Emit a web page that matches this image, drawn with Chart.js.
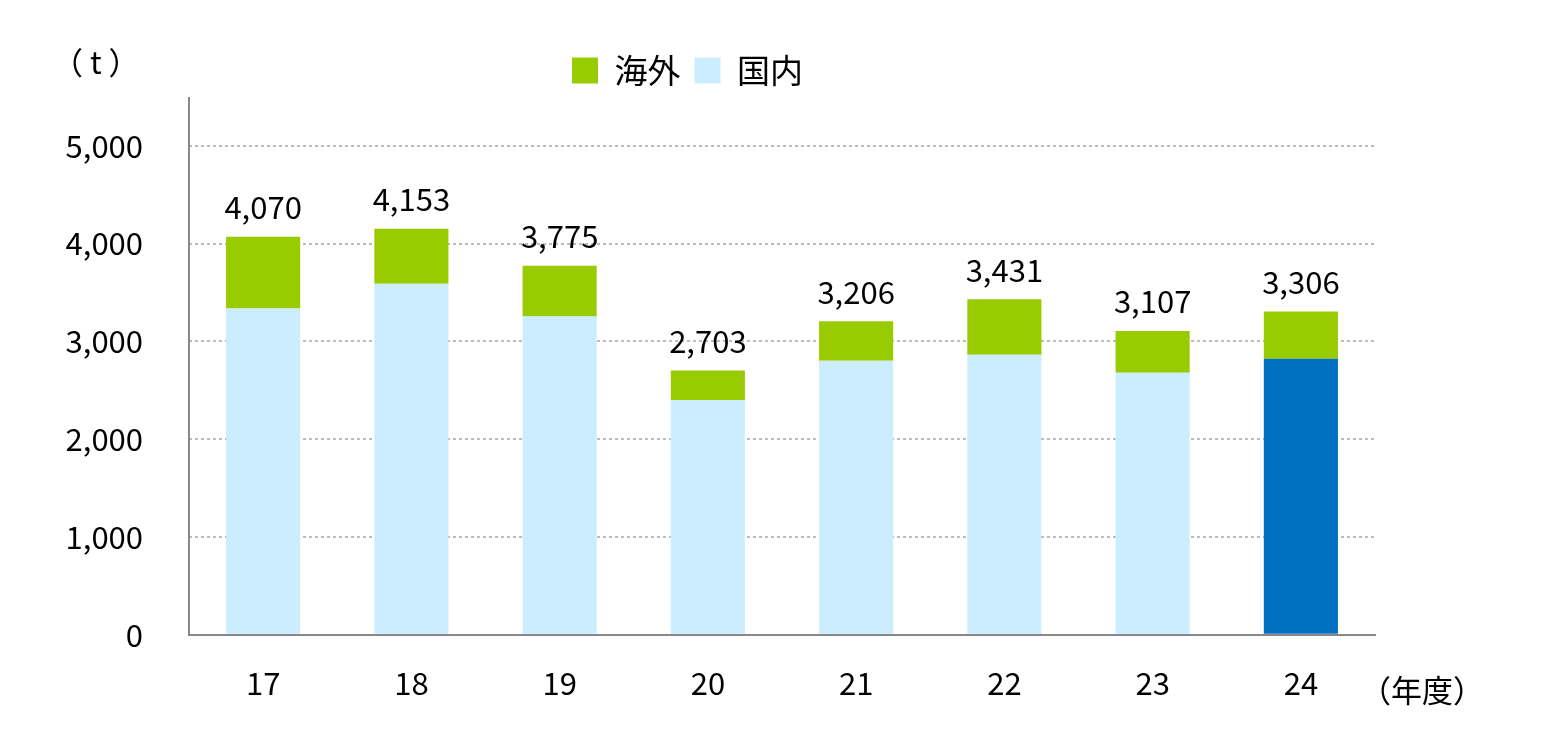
<!DOCTYPE html>
<html><head><meta charset="utf-8">
<script src="https://cdn.jsdelivr.net/npm/chart.js@4/dist/chart.umd.min.js"></script>
<style>html,body{margin:0;padding:0;background:#fff}#w{position:relative;width:1544px;height:746px}</style>
</head><body><div id="w"><canvas id="c" width="1544" height="746"></canvas></div>
<script>
const categories = ["17","18","19","20","21","22","23","24"];
const domestic = [3337,3589,3256,2399,2802,2863,2681,2823];
const overseas = [733,564,519,304,404,568,426,483];
const totals = ["4,070","4,153","3,775","2,703","3,206","3,431","3,107","3,306"];
const yTicks = [0,1000,2000,3000,4000,5000];
const FONT = "'Noto Sans CJK JP','Noto Sans',sans-serif";
const labelPlugin = {
  id:'lbl',
  afterDatasetsDraw(chart){
    const ctx = chart.ctx, m = chart.getDatasetMeta(1), a = chart.chartArea;
    ctx.save();
    ctx.strokeStyle='#888'; ctx.lineWidth=2; ctx.beginPath(); ctx.moveTo(a.left, a.top); ctx.lineTo(a.left, a.bottom); ctx.stroke();
    ctx.font = "31px "+FONT; ctx.fillStyle="#000"; ctx.textAlign="center"; ctx.textBaseline="bottom";
    m.data.forEach((b,i)=>ctx.fillText(totals[i], b.x, b.y-14));
    ctx.textAlign="left"; ctx.textBaseline="middle";
    ctx.fillText("（ t ）", 52, 62);
    ctx.fillText("（年度）", 1360, 690);
    ctx.restore();
  }
};
new Chart(document.getElementById('c'),{
  type:'bar',
  data:{labels:categories,datasets:[
    {label:'国内',data:domestic,backgroundColor:domestic.map((v,i)=>i===7?'#0070C0':'#CCECFF'),stack:'s'},
    {label:'海外',data:overseas,backgroundColor:'#99CC00',stack:'s'}
  ]},
  options:{
    responsive:false,animation:false,
    layout:{padding:{left:0,right:169,top:40,bottom:22}},
    datasets:{bar:{barPercentage:0.5,categoryPercentage:1}},
    plugins:{
      legend:{labels:{font:{size:33,family:FONT},color:'#000',boxWidth:26,boxHeight:26,padding:14,
        generateLabels(ch){return [{text:'海外',fillStyle:'#99CC00',strokeStyle:'#99CC00',lineWidth:0,datasetIndex:1},{text:'国内',fillStyle:'#CCECFF',strokeStyle:'#CCECFF',lineWidth:0,datasetIndex:0}];}}},
      tooltip:{enabled:false}
    },
    scales:{
      x:{stacked:true,grid:{display:false},border:{color:'#888',width:2},
         ticks:{font:{size:31,family:FONT},color:'#000',padding:22}},
      y:{stacked:true,min:0,max:5500,
         afterBuildTicks(s){s.ticks=yTicks.map(v=>({value:v}));},
         afterFit(s){s.width=189;},
         grid:{color:(c)=>c.tick&&c.tick.value===0?'rgba(0,0,0,0)':'#bbb',lineWidth:2,drawTicks:false},
         border:{display:false,dash:[3,3]},
         ticks:{font:{size:31,family:FONT},color:'#000',padding:46,callback:v=>v.toLocaleString('en-US')}}
    }
  },
  plugins:[labelPlugin]
});
</script></body></html>
